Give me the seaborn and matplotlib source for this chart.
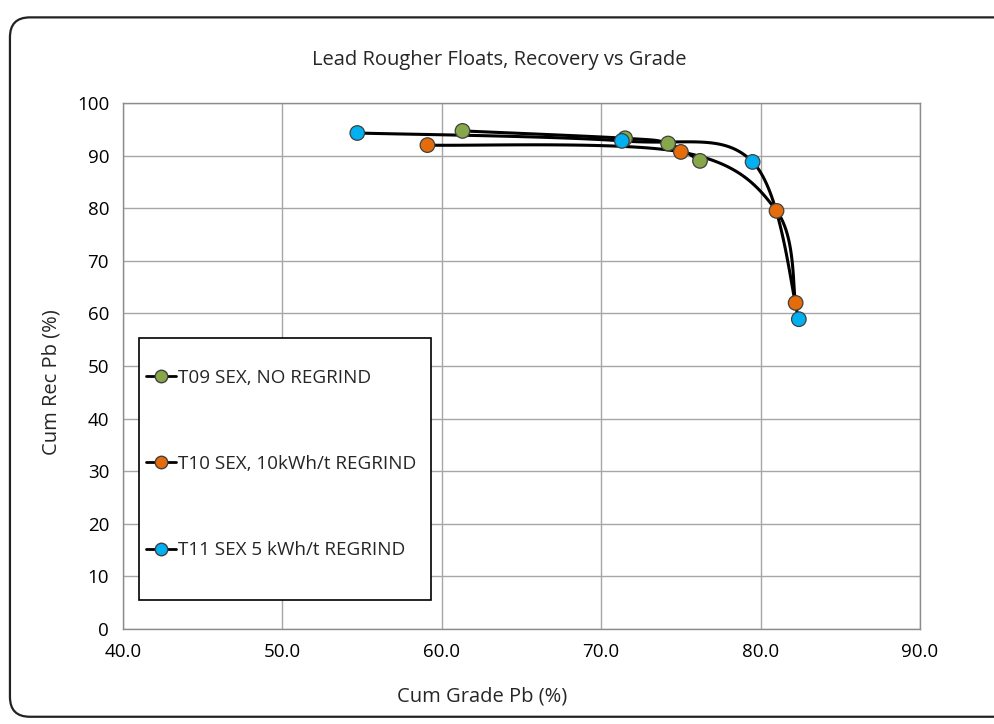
import numpy as np
import pandas as pd
import matplotlib
matplotlib.use("Agg")
import matplotlib.pyplot as plt
import seaborn as sns
from matplotlib.patches import FancyBboxPatch, Rectangle
from matplotlib.lines import Line2D

series_names = ["T09 SEX, NO REGRIND", "T10 SEX, 10kWh/t REGRIND", "T11 SEX 5 kWh/t REGRIND"]
t09_grade = [61.3, 71.5, 74.2, 76.2]
t09_rec = [94.7, 93.3, 92.3, 89.0]
t10_grade = [59.1, 75.0, 81.0, 82.2]
t10_rec = [92.0, 90.7, 79.5, 62.0]
t11_grade = [54.7, 71.3, 79.5, 82.4]
t11_rec = [94.3, 92.8, 88.8, 58.9]
colors = ["#86A74A", "#E46C0A", "#00B0F0"]
x_ticks = [40, 50, 60, 70, 80, 90]
y_ticks = [0, 10, 20, 30, 40, 50, 60, 70, 80, 90, 100]

df = pd.DataFrame({
    "grade": t09_grade + t10_grade + t11_grade,
    "rec": t09_rec + t10_rec + t11_rec,
    "series": [series_names[0]] * 4 + [series_names[1]] * 4 + [series_names[2]] * 4,
})

sns.set_theme(style="white")
plt.rcParams["font.family"] = ["Open Sans", "DejaVu Sans"]

fig = plt.figure(figsize=(9.95, 7.24), dpi=100)
ax = fig.add_axes([0.1236, 0.1312, 0.8010, 0.7265])

# outer rounded frame
frame = FancyBboxPatch((0.010, 0.010), 1.2, 0.966, boxstyle="round,pad=0,rounding_size=0.02",
                       transform=fig.transFigure, fill=False, edgecolor="#222222", linewidth=1.6,
                       mutation_aspect=995 / 724, clip_on=False)
fig.patches.append(frame)


def smooth(xs, ys, n=40):
    P = np.column_stack([xs, ys]).astype(float)
    P = np.vstack([P[0], P, P[-1]])
    out = []
    for i in range(1, len(P) - 2):
        p0, p1, p2, p3 = P[i - 1], P[i], P[i + 1], P[i + 2]
        c1 = p1 + (p2 - p0) / 6.0
        c2 = p2 - (p3 - p1) / 6.0
        t = np.linspace(0, 1, n)[:, None]
        seg = ((1 - t) ** 3) * p1 + 3 * ((1 - t) ** 2) * t * c1 + 3 * (1 - t) * t ** 2 * c2 + t ** 3 * p2
        out.append(seg)
    s = np.vstack(out)
    return s[:, 0], s[:, 1]


for name in series_names:
    sub = df[df.series == name]
    sx, sy = smooth(sub.grade.values, sub.rec.values)
    ax.plot(sx, sy, color="black", linewidth=2.2, zorder=3, solid_capstyle="round")

sns.scatterplot(data=df, x="grade", y="rec", hue="series", palette=colors, s=110,
                edgecolor="#404040", linewidth=0.9, ax=ax, zorder=5, legend=False)

ax.set_xlim(40, 90)
ax.set_ylim(0, 100)
ax.set_xticks(x_ticks)
ax.set_xticklabels([f"{v:.1f}" for v in x_ticks])
ax.set_yticks(y_ticks)
ax.grid(True, color="#A6A6A6", linewidth=1.0)
for sp in ax.spines.values():
    sp.set_color("#8C8C8C")
    sp.set_linewidth(1.0)
ax.tick_params(axis="both", labelsize=13.5, colors="black", length=0, pad=10)
ax.set_xlabel("Cum Grade Pb (%)", fontsize=14.5, labelpad=10, color="#262626")
ax.xaxis.set_label_coords(0.45, -0.11)
ax.set_ylabel("Cum Rec Pb (%)", fontsize=14.5, labelpad=12, color="#262626")
ax.yaxis.set_label_coords(-0.077, 0.47)
fig.text(0.502, 0.917, "Lead Rougher Floats, Recovery vs Grade", fontsize=14.5,
         color="#262626", ha="center", va="center")

# legend box
box = Rectangle((0.02, 0.055), 0.366, 0.498, transform=ax.transAxes, facecolor="white",
                edgecolor="black", linewidth=1.2, zorder=9)
ax.add_patch(box)
handles = [Line2D([0], [0], color="black", linewidth=2.0, marker="o", markersize=9,
                  markerfacecolor=c, markeredgecolor="#404040") for c in colors]
leg = ax.legend(handles, series_names, loc="upper left", bbox_to_anchor=(0.029, 0.495),
                fontsize=13.6, labelspacing=3.62, borderpad=0, handlelength=1.6,
                handletextpad=0.1, borderaxespad=0, frameon=False)
for txt in leg.get_texts():
    txt.set_color("#262626")
leg.set_zorder(10)

fig.savefig("out.png", dpi=100)
